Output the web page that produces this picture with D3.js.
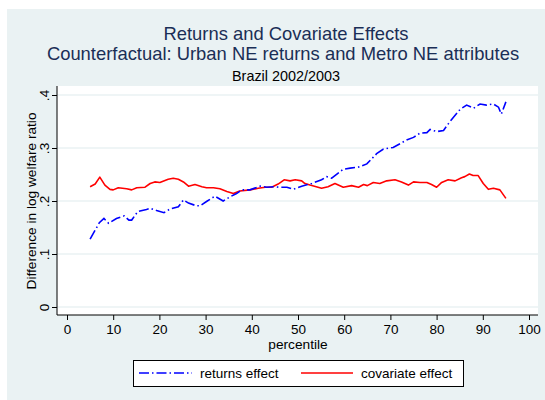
<!DOCTYPE html>
<html><head><meta charset="utf-8">
<script src="https://cdn.jsdelivr.net/npm/d3@7"></script>
<style>html,body{margin:0;padding:0;background:#fff}svg{display:block}text{font-family:"Liberation Sans",Arial,sans-serif}</style>
</head><body><div id="chart"></div>
<script>
const xTicks = [0,10,20,30,40,50,60,70,80,90,100];
const yTicks = [0,0.1,0.2,0.3,0.4];
const yTickLabels = ["0",".1",".2",".3",".4"];
const returnsPct = [5,7,8,9,10.7,12.4,13.4,14,15.3,17.2,18,19.4,21,22.3,24.1,25.2,26.3,28,28.8,30.2,32,33.8,35.3,36.7,37.8,39.6,41.8,43.2,44.7,46.1,47.6,49,50.8,53,55.1,56.2,57.3,59.8,61.3,63.1,64.9,67.1,68.5,70.6,73.5,75,76.4,77.9,78.6,80,81.5,82.9,85.1,86.5,88,89.4,90.8,92.3,93.4,94,95];
const returnsVal = [.128,.159,.167,.158,.167,.172,.164,.164,.180,.184,.186,.182,.178,.185,.189,.202,.196,.191,.191,.199,.209,.200,.208,.214,.221,.221,.228,.226,.227,.226,.226,.222,.228,.233,.240,.246,.243,.260,.262,.264,.270,.290,.298,.301,.315,.320,.328,.329,.335,.331,.333,.350,.373,.381,.375,.383,.381,.383,.377,.364,.387];
const covPct = [5,6.1,7.1,8.2,9.3,10,11.1,12.9,14,15.1,16.9,18,19,20.1,21.9,23,24.1,25.2,26.3,27.7,29.2,30.2,31.7,33.1,34.6,36,37.4,39.6,41.4,42.9,44.3,45.7,47,48.3,49.4,50.8,51.5,52.6,55.1,56.5,58,59.8,61.6,63.1,64.2,65,66.3,67.7,69.2,71,72.4,73.9,75,76.4,77.9,78.9,80,81.1,82.5,84,85.4,86.1,87.1,87.9,89,90.1,91.2,92.3,93.7,95];
const covVal = [.227,.232,.245,.230,.222,.221,.225,.223,.221,.225,.226,.233,.236,.235,.241,.243,.241,.236,.228,.231,.227,.225,.225,.223,.218,.214,.219,.221,.224,.226,.226,.232,.240,.238,.240,.238,.233,.230,.224,.227,.233,.226,.229,.226,.231,.229,.235,.233,.238,.240,.236,.230,.236,.235,.235,.231,.226,.235,.240,.238,.244,.246,.251,.248,.248,.233,.222,.224,.221,.205];
const seriesNames = ["returns effect","covariate effect"];
const titleLines = ["Returns and Covariate Effects","Counterfactual: Urban NE returns and Metro NE attributes"];
const subtitle = "Brazil 2002/2003";

const W=545,H=400;
const svg=d3.select("#chart").append("svg").attr("width",W).attr("height",H);
const bg="#eaf2f3", navy="#1a2e56";
svg.append("rect").attr("x",7).attr("y",9).attr("width",W-7).attr("height",H-9).attr("fill",bg);
const plot={l:57,r:538,t:86,b:315};
svg.append("rect").attr("x",plot.l).attr("y",plot.t).attr("width",plot.r-plot.l).attr("height",plot.b-plot.t).attr("fill","#fff");
const x=d3.scaleLinear().domain([0,100]).range([67,529]);
const y=d3.scaleLinear().domain([0,0.4]).range([307,95]);

// grid
svg.append("g").selectAll("line").data(yTicks).join("line")
 .attr("x1",plot.l).attr("x2",plot.r).attr("y1",d=>y(d)).attr("y2",d=>y(d))
 .attr("stroke",bg).attr("stroke-width",1.3);

// axes
const yAxis=d3.axisLeft(y).tickValues(yTicks).tickFormat((d,i)=>yTickLabels[i]).tickSize(5).tickSizeOuter(0);
const gy=svg.append("g").attr("transform",`translate(${plot.l},0)`).call(yAxis);
gy.select(".domain").attr("d",`M0,${plot.t}V${plot.b}`).attr("stroke","#000");
gy.selectAll(".tick line").attr("stroke","#000");
gy.selectAll(".tick text").attr("font-size",13.5).attr("fill","#000").attr("font-family","Liberation Sans, Arial, sans-serif")
  .attr("transform","rotate(-90)").attr("x",0).attr("y",-8).attr("dy",0).attr("text-anchor","middle");
const xAxis=d3.axisBottom(x).tickValues(xTicks).tickSize(5).tickSizeOuter(0);
const gx=svg.append("g").attr("transform",`translate(0,${plot.b})`).call(xAxis);
gx.select(".domain").attr("d",`M${plot.l},0H${plot.r}`).attr("stroke","#000");
gx.selectAll(".tick line").attr("stroke","#000");
gx.selectAll(".tick text").attr("font-size",13.5).attr("fill","#000").attr("font-family","Liberation Sans, Arial, sans-serif").attr("y",9).attr("dy","0.71em");

// lines
const line=d3.line().x(d=>x(d[0])).y(d=>y(d[1]));
svg.append("path").datum(covPct.map((p,i)=>[p,covVal[i]])).attr("d",line)
 .attr("fill","none").attr("stroke","#ff0000").attr("stroke-width",1.6).attr("stroke-linejoin","round");
svg.append("path").datum(returnsPct.map((p,i)=>[p,returnsVal[i]])).attr("d",line)
 .attr("fill","none").attr("stroke","#0000ff").attr("stroke-width",1.6).attr("stroke-dasharray","10,3,1.5,3");

// titles
svg.append("text").attr("x",286).attr("y",40).attr("text-anchor","middle").attr("font-size",18.4).attr("fill",navy).text(titleLines[0]);
svg.append("text").attr("x",283).attr("y",60).attr("text-anchor","middle").attr("font-size",18.4).attr("fill",navy).text(titleLines[1]);
svg.append("text").attr("x",286).attr("y",81).attr("text-anchor","middle").attr("font-size",14.4).attr("fill","#000").text(subtitle);
// axis titles
svg.append("text").attr("x",298).attr("y",349).attr("text-anchor","middle").attr("font-size",13.7).attr("fill","#000").text("percentile");
svg.append("text").attr("transform","translate(36,201) rotate(-90)").attr("text-anchor","middle").attr("font-size",13.7).attr("fill","#000").text("Difference in log welfare ratio");

// legend
svg.append("rect").attr("x",133.5).attr("y",360.5).attr("width",330).attr("height",26).attr("fill","#fff").attr("stroke","#000").attr("stroke-width",1);
svg.append("line").attr("x1",139).attr("x2",192).attr("y1",373).attr("y2",373).attr("stroke","#0000ff").attr("stroke-width",1.6).attr("stroke-dasharray","10,3,1.5,3");
svg.append("line").attr("x1",301).attr("x2",353).attr("y1",373).attr("y2",373).attr("stroke","#ff0000").attr("stroke-width",1.6);
svg.append("text").attr("x",200).attr("y",378).attr("font-size",13.5).attr("fill","#000").text(seriesNames[0]);
svg.append("text").attr("x",361).attr("y",378).attr("font-size",13.5).attr("fill","#000").text(seriesNames[1]);
</script></body></html>
